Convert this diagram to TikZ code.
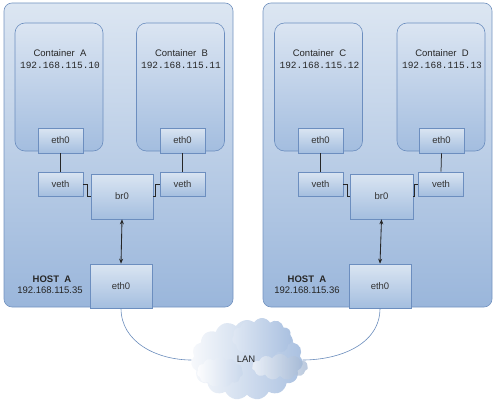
\documentclass[tikz,border=0pt]{standalone}
\usepackage{fontspec}
\setmainfont{Liberation Sans}
\newfontfamily\ipfont{Liberation Mono}
\usetikzlibrary{shapes.symbols,arrows.meta}
\definecolor{hosttop}{HTML}{DCE6F2}
\definecolor{hostbot}{HTML}{9AB6DB}
\definecolor{hostedge}{HTML}{7393C0}
\definecolor{conttop}{HTML}{DBE5F2}
\definecolor{contbot}{HTML}{A3BDDF}
\definecolor{boxtop}{HTML}{DAE5F2}
\definecolor{boxbot}{HTML}{A4BEDF}
\definecolor{edge}{HTML}{6C8EBF}
\definecolor{wire}{HTML}{262626}
\definecolor{lanwire}{HTML}{6A8CBC}
\definecolor{cloudL}{HTML}{F7F9FC}
\definecolor{cloudR}{HTML}{A9C0E0}
\tikzset{
  host/.style={draw=hostedge, line width=0.6pt, rounded corners=8pt, top color=hosttop, bottom color=hostbot, inner sep=0pt},
  cont/.style={draw=edge, line width=0.6pt, rounded corners=10pt, top color=conttop, bottom color=contbot, minimum width=88pt, minimum height=128pt, inner sep=0pt},
  box/.style={draw=edge, line width=0.6pt, top color=boxtop, bottom color=boxbot, minimum width=45pt, minimum height=24pt, inner sep=0pt, font=\fontsize{9.5}{11}\selectfont, text=black!80},
  bigbox/.style={box, minimum width=62pt, minimum height=45pt},
  lbl/.style={inner sep=0pt, font=\fontsize{9.5}{11}\selectfont, text=black!85},
  ipl/.style={inner sep=0pt, font=\ipfont\fontsize{9.5}{11}\selectfont, text=black!85},
  hostlbl/.style={inner sep=0pt, font=\bfseries\fontsize{9.5}{11}\selectfont, text=black!85},
  link/.style={draw=wire, line width=0.75pt},
  lan/.style={draw=lanwire, line width=0.6pt},
  bi/.style={draw=wire, line width=0.85pt, {Stealth[length=5pt,width=4pt]}-{Stealth[length=5pt,width=4pt]}},
  puff/.style={cloud, cloud puffs=11, cloud puff arc=120, draw=none, inner sep=0pt}
}
\begin{document}
\begin{tikzpicture}[x=1pt,y=-1pt]
\useasboundingbox (0,0) rectangle (500,404);
% hosts
\node[host, minimum width=229pt, minimum height=304pt] (hostA) at (118.5,155) {};
\node[host, minimum width=229pt, minimum height=304pt] (hostB) at (377.5,155) {};
% containers
\node[cont] (cA) at (59,87) {};
\node[cont] (cB) at (180.5,87) {};
\node[cont] (cC) at (318.5,87) {};
\node[cont] (cD) at (441,87) {};
\node[lbl] (nA) at (60,53) {Container\ \ A};
\node[ipl] (iA) at (60,65) {192.168.115.10};
\node[lbl] (nB) at (181.5,53) {Container\ \ B};
\node[ipl] (iB) at (181,65) {192.168.115.11};
\node[lbl] (nC) at (319.5,53) {Container\ \ C};
\node[ipl] (iC) at (319.5,65) {192.168.115.12};
\node[lbl] (nD) at (442,53) {Container\ \ D};
\node[ipl] (iD) at (442,65) {192.168.115.13};
% container eth0
\node[box, minimum height=25pt] (eA) at (60.5,140.5) {eth0};
\node[box, minimum height=25pt] (eB) at (182.5,140.5) {eth0};
\node[box, minimum height=25pt] (eC) at (320.5,140.5) {eth0};
\node[box, minimum height=25pt] (eD) at (441.5,140.5) {eth0};
% veth
\node[box] (vA) at (60.5,184) {veth};
\node[box] (vB) at (182.5,184) {veth};
\node[box] (vC) at (320.5,184) {veth};
\node[box] (vD) at (441,184) {veth};
% bridges
\node[bigbox] (brA) at (122,196.5) {br0};
\node[bigbox, minimum width=63pt] (brB) at (381.5,196.5) {br0};
% host eth0
\node[bigbox, minimum height=44pt] (hA) at (121,286) {eth0};
\node[bigbox, minimum height=44pt] (hB) at (380,286) {eth0};
% host labels
\node[hostlbl] (hlA) at (52,279) {HOST\ \ A};
\node[lbl] (hiA) at (50,290) {192.168.115.35};
\node[hostlbl] (hlB) at (307,279) {HOST\ \ A};
\node[lbl] (hiB) at (307,290) {192.168.115.36};
% links
\draw[link] (eA.south) -- (vA.north);
\draw[link] (eB.south) -- (vB.north);
\draw[link] (eC.south) -- (vC.north);
\draw[link] (eD.south) -- (vD.north);
\draw[link] (vA.east) -- ++(4,0) |- (brA.west);
\draw[link] (vB.west) -- ++(-4,0) |- (brA.east);
\draw[link] (vC.east) -- ++(4,0) |- (brB.west);
\draw[link] (vD.west) -- ++(-4,0) |- (brB.east);
\draw[bi] (brA.south) -- (hA.north);
\draw[bi] (brB.south) -- (hB.north);
% cloud
\node[cloud, cloud puffs=15, cloud puff arc=115, aspect=1.35, minimum width=112pt, minimum height=80pt, left color=cloudL, right color=cloudR, draw=none, inner sep=0pt] (lan) at (247,360) {};
\node[puff, left color=cloudL!70!cloudR, right color=cloudR, minimum width=60pt, minimum height=40pt] (p1) at (262,338) {};
\node[puff, left color=white, right color=cloudL!40!cloudR, opacity=0.8, minimum width=46pt, minimum height=30pt] (p2) at (220,372) {};
\node[puff, left color=cloudL, right color=cloudR!92!black, opacity=0.7, minimum width=56pt, minimum height=26pt] (p3) at (280,367) {};
\node[lbl] (lanl) at (246,359) {LAN};
\draw[lan] (hA.south) to[out=-90,in=180] (lan.west);
\draw[lan] (hB.south) to[out=-90,in=0] (lan.east);
\end{tikzpicture}
\end{document}
